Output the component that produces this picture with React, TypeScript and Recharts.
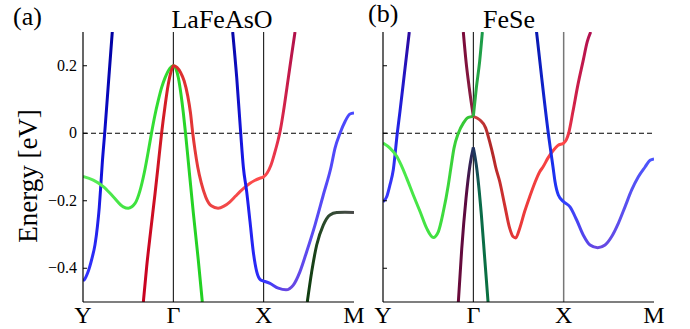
import React from "react";
import { LineChart, Line, XAxis, YAxis, ReferenceLine } from "recharts";

const K_TICKS = [0, 1, 2, 3];
const K_LABELS = ["Y", "Γ", "X", "M"];
const E_TICKS = [-0.4, -0.2, 0, 0.2];
const E_MIN = -0.5;
const E_MAX = 0.3;

// (a) LaFeAsO bands, [k, E] pairs, k: Y=0, Γ=1, X=2, M=3
const laBlueY: [number, number][] = [
  [0, -0.437], [0.02, -0.432], [0.05, -0.415], [0.1, -0.37], [0.133, -0.33], [0.16, -0.275],
  [0.18, -0.22], [0.197, -0.155], [0.212, -0.094], [0.24, 0], [0.283, 0.154], [0.324, 0.3],
];
const laGreen: [number, number][] = [
  [0, -0.128], [0.114, -0.139], [0.225, -0.158], [0.335, -0.188], [0.446, -0.218], [0.501, -0.222],
  [0.576, -0.208], [0.631, -0.17], [0.68, -0.115], [0.72, -0.058], [0.758, 0], [0.795, 0.052],
  [0.834, 0.098], [0.87, 0.135], [0.908, 0.164], [0.963, 0.193], [1.0, 0.2], [1.03, 0.19],
  [1.055, 0.165], [1.085, 0.115], [1.11, 0.062], [1.135, 0], [1.166, -0.085], [1.221, -0.235],
  [1.276, -0.375], [1.321, -0.5],
];
const laRed: [number, number][] = [
  [0.668, -0.5], [0.705, -0.395], [0.749, -0.29], [0.797, -0.18], [0.83, -0.1], [0.87, 0],
  [0.908, 0.08], [0.944, 0.145], [0.975, 0.183], [1.0, 0.2], [1.04, 0.195], [1.08, 0.18],
  [1.12, 0.155], [1.16, 0.11], [1.19, 0.06], [1.215, 0], [1.24, -0.05], [1.27, -0.1],
  [1.31, -0.148], [1.36, -0.19], [1.42, -0.215], [1.495, -0.222], [1.56, -0.216], [1.627, -0.203],
  [1.69, -0.186], [1.738, -0.173], [1.8, -0.158], [1.849, -0.148], [1.9, -0.14], [1.96, -0.133],
  [2.0, -0.129], [2.04, -0.117], [2.08, -0.095], [2.12, -0.06], [2.16, -0.02], [2.185, 0.01],
  [2.225, 0.075], [2.273, 0.164], [2.31, 0.233], [2.347, 0.3],
];
const laBlueX: [number, number][] = [
  [1.657, 0.3], [1.702, 0.164], [1.746, 0], [1.775, -0.1], [1.812, -0.173], [1.849, -0.262],
  [1.885, -0.351], [1.923, -0.41], [1.967, -0.435], [2.0, -0.438], [2.07, -0.445], [2.162, -0.459],
  [2.247, -0.464], [2.328, -0.45], [2.402, -0.41], [2.476, -0.351], [2.568, -0.272], [2.66, -0.183],
  [2.746, -0.1], [2.79, -0.044], [2.845, 0], [2.901, 0.035], [2.956, 0.057], [3.0, 0.06],
];
const laDarkM: [number, number][] = [
  [2.483, -0.5], [2.532, -0.41], [2.587, -0.331], [2.66, -0.272], [2.734, -0.242], [2.809, -0.235],
  [2.9, -0.234], [3.0, -0.235],
];

// (b) FeSe bands
const feBlueY: [number, number][] = [
  [0, -0.203], [0.041, -0.188], [0.077, -0.153], [0.114, -0.108], [0.158, 0], [0.188, 0.065],
  [0.244, 0.193], [0.291, 0.3],
];
const feGreen: [number, number][] = [
  [0, -0.029], [0.077, -0.044], [0.152, -0.068], [0.199, -0.093], [0.262, -0.133], [0.335, -0.183],
  [0.41, -0.232], [0.484, -0.282], [0.557, -0.309], [0.612, -0.292], [0.668, -0.232], [0.723, -0.153],
  [0.753, -0.1], [0.786, -0.044], [0.834, 0], [0.889, 0.03], [0.945, 0.047], [1.0, 0.05],
];
const feRed: [number, number][] = [
  [1.0, 0.05], [1.07, 0.04], [1.136, 0.016], [1.18, -0.024], [1.225, -0.073], [1.247, -0.1],
  [1.292, -0.143], [1.347, -0.213], [1.403, -0.282], [1.439, -0.306], [1.469, -0.31], [1.513, -0.282],
  [1.568, -0.232], [1.624, -0.188], [1.679, -0.148], [1.735, -0.114], [1.771, -0.1], [1.827, -0.073],
  [1.882, -0.052], [1.937, -0.036], [2.0, -0.029], [2.03, -0.019], [2.055, 0], [2.103, 0.065],
  [2.158, 0.144], [2.214, 0.213], [2.262, 0.272], [2.299, 0.3],
];
const feUpLeft: [number, number][] = [[0.889, 0.3], [0.919, 0.213], [0.955, 0.134], [1.0, 0.05]];
const feUpRight: [number, number][] = [[1.0, 0.05], [1.033, 0.134], [1.07, 0.213], [1.1, 0.3]];
const feDownLeft: [number, number][] = [[0.834, -0.5], [0.872, -0.341], [0.919, -0.193], [0.963, -0.094], [1.0, -0.042]];
const feDownRight: [number, number][] = [[1.0, -0.042], [1.033, -0.094], [1.089, -0.242], [1.126, -0.371], [1.163, -0.5]];
const feBlueX: [number, number][] = [
  [1.7, 0.3], [1.757, 0.164], [1.83, 0], [1.882, -0.1], [1.904, -0.143], [1.941, -0.183],
  [2.0, -0.203], [2.07, -0.218], [2.144, -0.257], [2.218, -0.302], [2.292, -0.331], [2.377, -0.339],
  [2.458, -0.331], [2.532, -0.306], [2.605, -0.267], [2.679, -0.218], [2.753, -0.168], [2.827, -0.129],
  [2.901, -0.1], [2.956, -0.08], [3.0, -0.076],
];

type Grad = { id: string; dir: "x" | "y"; stops: [number, string][] };
type Band = { pts: [number, number][]; grad: Grad };

const FONT = "'Liberation Serif', 'Times New Roman', serif";

const bandsA: Band[] = [
  { pts: laBlueY, grad: { id: "aBlueY", dir: "y", stops: [[0, "#0000a0"], [0.55, "#1010d8"], [1, "#3434ff"]] } },
  { pts: laGreen, grad: { id: "aGreen", dir: "x", stops: [[0, "#5cee5c"], [0.6, "#33dd33"], [1, "#22d022"]] } },
  {
    pts: laRed,
    grad: { id: "aRed", dir: "x", stops: [[0, "#c80020"], [0.2, "#d82a2a"], [0.5, "#f04848"], [0.79, "#ff4c4c"], [0.9, "#de2a4a"], [1, "#b0104a"]] },
  },
  {
    pts: laBlueX,
    grad: { id: "aBlueX", dir: "x", stops: [[0, "#0808a8"], [0.09, "#1818ea"], [0.26, "#3636ff"], [0.45, "#6a48e0"], [0.65, "#5a4af2"], [1, "#4848ff"]] },
  },
  { pts: laDarkM, grad: { id: "aDark", dir: "x", stops: [[0, "#0e3d0e"], [0.4, "#2c4a2c"], [1, "#4a4a4a"]] } },
];

const bandsB: Band[] = [
  { pts: feBlueY, grad: { id: "bBlueY", dir: "y", stops: [[0, "#2a0aa0"], [0.5, "#2020e0"], [1, "#3a3aff"]] } },
  { pts: feGreen, grad: { id: "bGreen", dir: "x", stops: [[0, "#50ee50"], [0.6, "#40e040"], [1, "#33c033"]] } },
  {
    pts: feRed,
    grad: { id: "bRed", dir: "x", stops: [[0, "#d04040"], [0.15, "#b02828"], [0.36, "#e83838"], [0.77, "#ff4848"], [0.86, "#d02048"], [1, "#b01050"]] },
  },
  { pts: feUpLeft, grad: { id: "bUpL", dir: "y", stops: [[0, "#7a0a3a"], [1, "#8a2040"]] } },
  { pts: feUpRight, grad: { id: "bUpR", dir: "y", stops: [[0, "#1a9a4a"], [1, "#30b040"]] } },
  { pts: feDownLeft, grad: { id: "bDnL", dir: "y", stops: [[0, "#203060"], [0.3, "#5a0a40"], [1, "#6a0a3a"]] } },
  { pts: feDownRight, grad: { id: "bDnR", dir: "y", stops: [[0, "#203060"], [0.3, "#0a6a4a"], [1, "#0a7040"]] } },
  {
    pts: feBlueX,
    grad: { id: "bBlueX", dir: "x", stops: [[0, "#0818b0"], [0.14, "#1a30ee"], [0.23, "#3040ff"], [0.52, "#6a48e0"], [0.77, "#5850f0"], [1, "#4a55ff"]] },
  },
];

const fmtE = (v: number) => (v === 0 ? "0" : (v < 0 ? "\u2212" : "") + Math.abs(v).toFixed(1));

const GAP = 6;

function LeftTick(props: any) {
  const { x, y, payload, showLabel } = props;
  return (
    <g>
      <line x1={x + GAP} x2={x + GAP + 4} y1={y} y2={y} stroke="#000" strokeWidth={1} />
      {showLabel && (
        <text x={x} y={y} dy={5} textAnchor="end" style={{ fontFamily: FONT }} fontSize={16} fill="#000">
          {fmtE(payload.value)}
        </text>
      )}
    </g>
  );
}

function RightTick(props: any) {
  const { x, y } = props;
  return <line x1={x - 4} x2={x} y1={y} y2={y} stroke="#000" strokeWidth={1} />;
}

function KTick(props: any) {
  const { x, y, payload } = props;
  return (
    <text x={x} y={y} dy={15} textAnchor="middle" style={{ fontFamily: FONT }} fontSize={24} fill="#000">
      {K_LABELS[K_TICKS.indexOf(payload.value)]}
    </text>
  );
}

type PanelProps = {
  left: number;
  width: number;
  plotLeft: number;
  plotRight: number;
  bands: Band[];
  showLabels: boolean;
  title: string;
  titleX: number;
  tag: string;
  tagX: number;
  tagY: number;
  xLineColor: string;
  yLabel?: boolean;
};

function Panel(p: PanelProps) {
  return (
    <div style={{ position: "absolute", left: p.left, top: 0 }}>
      <LineChart
        width={p.width}
        height={329}
        margin={{ top: 32, right: p.width - p.plotRight, bottom: 0, left: 0 }}
      >
        <defs>
          {p.bands.map((b) => (
            <linearGradient
              key={b.grad.id}
              id={b.grad.id}
              x1="0"
              y1="0"
              x2={b.grad.dir === "x" ? "1" : "0"}
              y2={b.grad.dir === "y" ? "1" : "0"}
            >
              {b.grad.stops.map(([o, c], i) => (
                <stop key={i} offset={o} stopColor={c} />
              ))}
            </linearGradient>
          ))}
        </defs>
        <XAxis
          dataKey="k"
          type="number"
          domain={[0, 3]}
          ticks={K_TICKS}
          allowDataOverflow
          height={27}
          tickSize={0}
          tickMargin={6}
          tickLine={false}
          axisLine={{ stroke: "#000", strokeWidth: 1.2 }}
          tick={<KTick />}
          interval={0}
        />
        <XAxis xAxisId="top" type="number" domain={[0, 3]} orientation="top" height={0} tick={false} tickLine={false} axisLine={{ stroke: "#000", strokeWidth: 1.2 }} />
        <YAxis
          type="number"
          domain={[E_MIN, E_MAX]}
          ticks={E_TICKS}
          allowDataOverflow
          width={p.plotLeft}
          tickSize={0}
          tickMargin={GAP}
          tickLine={false}
          axisLine={{ stroke: "#000", strokeWidth: 1.2 }}
          tick={<LeftTick showLabel={p.showLabels} />}
          interval={0}
        />
        <YAxis
          yAxisId="right"
          orientation="right"
          type="number"
          domain={[E_MIN, E_MAX]}
          ticks={E_TICKS}
          width={0}
          tickSize={0}
          tickMargin={0}
          tickLine={false}
          axisLine={{ stroke: "#000", strokeWidth: 1.2 }}
          tick={<RightTick />}
          interval={0}
        />
        <ReferenceLine x={1} stroke="#000" strokeWidth={1} />
        <ReferenceLine x={2} stroke={p.xLineColor} strokeWidth={p.xLineColor === "#000" ? 1 : 1.5} />
        <ReferenceLine y={0} stroke="#000" strokeWidth={1} strokeDasharray="5 3" />
        {p.bands.map((b) => (
          <Line
            key={b.grad.id}
            data={b.pts.map(([k, e]) => ({ k, e }))}
            dataKey="e"
            type="monotone"
            stroke={`url(#${b.grad.id})`}
            strokeWidth={3}
            dot={false}
            activeDot={false}
            isAnimationActive={false}
          />
        ))}
        <text x={p.titleX} y={28} textAnchor="middle" style={{ fontFamily: FONT }} fontSize={26} fill="#000">
          {p.title}
        </text>
        <text x={p.tagX} y={p.tagY} style={{ fontFamily: FONT }} fontSize={26} fill="#000">
          {p.tag}
        </text>
        {p.yLabel && (
          <text
            x={37}
            y={176}
            transform="rotate(-90 37 176)"
            textAnchor="middle"
            style={{ fontFamily: FONT }}
            fontSize={27}
            fill="#000"
          >
            Energy [eV]
          </text>
        )}
      </LineChart>
    </div>
  );
}

export default function App() {
  return (
    <div style={{ position: "fixed", left: 0, top: 0, width: 690, height: 329, background: "#fff", overflow: "hidden" }}>
      <Panel
        left={0}
        width={375}
        plotLeft={83}
        plotRight={354}
        bands={bandsA}
        showLabels
        title="LaFeAsO"
        titleX={222}
        tag="(a)"
        tagX={13}
        tagY={25}
        xLineColor="#000"
        yLabel
      />
      <Panel
        left={355}
        width={335}
        plotLeft={28}
        plotRight={299}
        bands={bandsB}
        showLabels={false}
        title="FeSe"
        titleX={154}
        tag="(b)"
        tagX={13}
        tagY={22}
        xLineColor="#777"
      />
    </div>
  );
}
